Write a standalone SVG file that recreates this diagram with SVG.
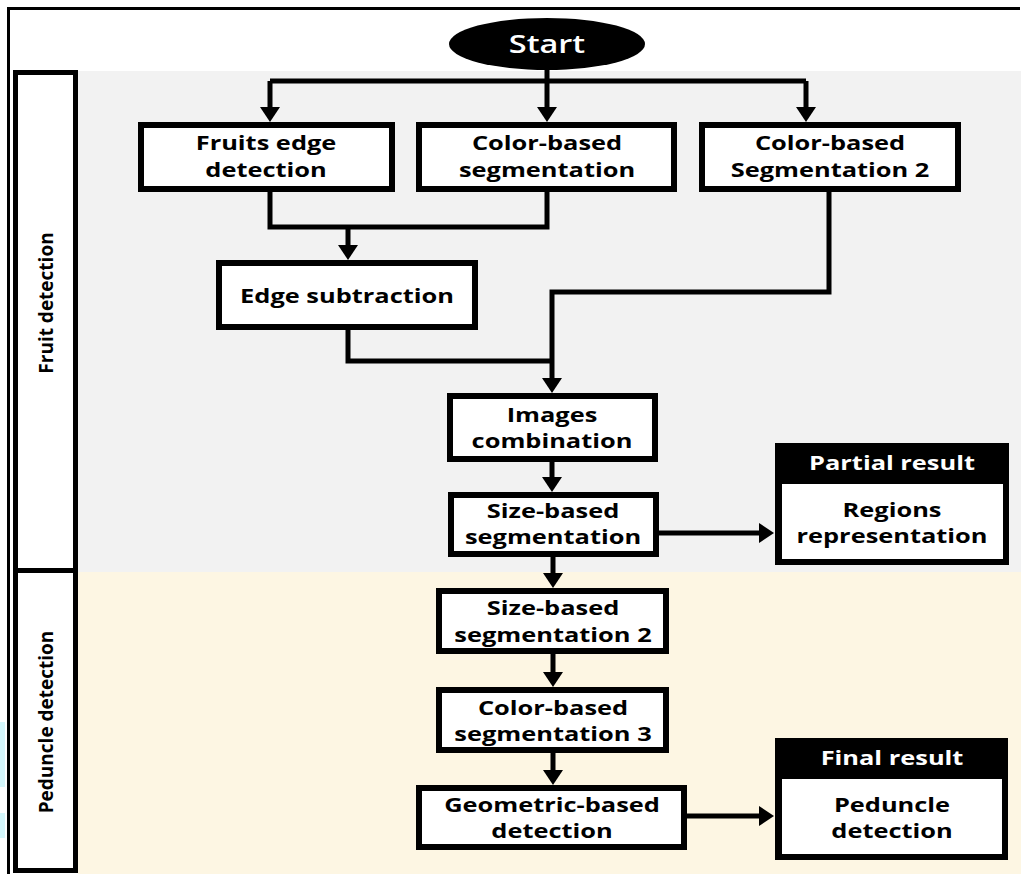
<svg xmlns="http://www.w3.org/2000/svg" width="1024" height="874" viewBox="0 0 1024 874">
<style>
.t{font-family:"Open Sans","Liberation Sans",sans-serif;font-weight:700;font-size:20px;text-anchor:middle;fill:#000}
.w{fill:#fff}
.box{fill:#fff;stroke:#000;stroke-width:6}
.c{fill:none;stroke:#000;stroke-width:5;stroke-linejoin:miter;stroke-linecap:butt}
.lane{fill:#fff;stroke:#000;stroke-width:5}
.lt{font-family:"Open Sans","Liberation Sans",sans-serif;font-weight:700;font-size:19px;text-anchor:middle;fill:#000}
</style>
<defs>
<marker id="ah" viewBox="0 0 15 20" refX="3" refY="10" markerWidth="15" markerHeight="20" markerUnits="userSpaceOnUse" orient="auto">
<path d="M0,0 L15,10 L0,20 z" fill="#000"/>
</marker>
</defs>
<rect width="1024" height="874" fill="#fff"/>
<g id="background">
<rect x="78" y="71" width="943" height="501" fill="#f2f2f2"/>
<rect x="78" y="572" width="943" height="302" fill="#fdf6e3"/>
<rect x="0" y="722" width="5" height="65" fill="#d4f6fb"/>
<rect x="0" y="813" width="5" height="25" fill="#d4f6fb"/>
<path d="M8.5 874 V8.5 H1020" fill="none" stroke="#000" stroke-width="3"/>
</g>
<g id="lane-fruit">
<rect class="lane" x="15.5" y="72.5" width="60" height="498"/>
<text class="lt" transform="translate(53,303) rotate(-90)">Fruit detection</text>
</g>
<g id="lane-peduncle">
<rect class="lane" x="15.5" y="570.5" width="60" height="300"/>
<text class="lt" transform="translate(53,722) rotate(-90)">Peduncle detection</text>
</g>
<g id="connectors">
<path class="c" d="M270 81 H806"/>
<path class="c" d="M547 69 V110" marker-end="url(#ah)"/>
<path class="c" d="M270 81 V110" marker-end="url(#ah)"/>
<path class="c" d="M806 81 V110" marker-end="url(#ah)"/>
<path class="c" d="M270 192 V227 H547 V192"/>
<path class="c" d="M348 227 V248" marker-end="url(#ah)"/>
<path class="c" d="M348 330 V361 H552"/>
<path class="c" d="M829 192 V292 H552 V381" marker-end="url(#ah)"/>
<path class="c" d="M552 462 V480" marker-end="url(#ah)"/>
<path class="c" d="M553 557 V576" marker-end="url(#ah)"/>
<path class="c" d="M553 654 V675" marker-end="url(#ah)"/>
<path class="c" d="M553 753 V773" marker-end="url(#ah)"/>
<path class="c" d="M659 533 H762" marker-end="url(#ah)"/>
<path class="c" d="M687 816 H762" marker-end="url(#ah)"/>
</g>
<g id="start">
<ellipse cx="547" cy="44" rx="98" ry="26" fill="#000"/>
<text class="t w" style="font-weight:600;font-size:25px" transform="translate(547,53) scale(1.3,1)">Start</text>
</g>
<g id="fruits-edge">
<rect class="box" x="141" y="125" width="251" height="64"/>
<text class="t" transform="translate(266,150) scale(1.27,1)"><tspan x="0" y="0">Fruits edge</tspan><tspan x="0" y="27">detection</tspan></text>
</g>
<g id="color-seg">
<rect class="box" x="419" y="125" width="255" height="64"/>
<text class="t" transform="translate(547,150) scale(1.27,1)"><tspan x="0" y="0">Color-based</tspan><tspan x="0" y="27">segmentation</tspan></text>
</g>
<g id="color-seg2">
<rect class="box" x="702" y="125" width="256" height="64"/>
<text class="t" transform="translate(830,150) scale(1.27,1)"><tspan x="0" y="0">Color-based</tspan><tspan x="0" y="27">Segmentation 2</tspan></text>
</g>
<g id="edge-sub">
<rect class="box" x="219" y="263" width="256" height="64"/>
<text class="t" transform="translate(347,303) scale(1.27,1)">Edge subtraction</text>
</g>
<g id="img-comb">
<rect class="box" x="450" y="396" width="205" height="63"/>
<text class="t" transform="translate(552,422) scale(1.27,1)"><tspan x="0" y="0">Images</tspan><tspan x="0" y="26">combination</tspan></text>
</g>
<g id="size-seg">
<rect class="box" x="451" y="495" width="205" height="59"/>
<text class="t" transform="translate(553,518) scale(1.27,1)"><tspan x="0" y="0">Size-based</tspan><tspan x="0" y="26">segmentation</tspan></text>
</g>
<g id="size-seg2">
<rect class="box" x="439" y="591" width="227" height="60"/>
<text class="t" transform="translate(553,615) scale(1.27,1)"><tspan x="0" y="0">Size-based</tspan><tspan x="0" y="27">segmentation 2</tspan></text>
</g>
<g id="color-seg3">
<rect class="box" x="439" y="690" width="227" height="60"/>
<text class="t" transform="translate(553,715) scale(1.27,1)"><tspan x="0" y="0">Color-based</tspan><tspan x="0" y="26">segmentation 3</tspan></text>
</g>
<g id="geom">
<rect class="box" x="419" y="788" width="265" height="59"/>
<text class="t" transform="translate(552,812) scale(1.27,1)"><tspan x="0" y="0">Geometric-based</tspan><tspan x="0" y="26">detection</tspan></text>
</g>
<g id="partial">
<rect x="775" y="443" width="234" height="122" fill="#000"/>
<rect x="782" y="484" width="221" height="75" fill="#fff"/>
<text class="t w" transform="translate(892,470) scale(1.27,1)">Partial result</text>
<text class="t" transform="translate(892,517) scale(1.27,1)"><tspan x="0" y="0">Regions</tspan><tspan x="0" y="26">representation</tspan></text>
</g>
<g id="final">
<rect x="775" y="738" width="233" height="122" fill="#000"/>
<rect x="782" y="779" width="220" height="75" fill="#fff"/>
<text class="t w" transform="translate(892,765) scale(1.27,1)">Final result</text>
<text class="t" transform="translate(892,812) scale(1.27,1)"><tspan x="0" y="0">Peduncle</tspan><tspan x="0" y="26">detection</tspan></text>
</g>
</svg>
